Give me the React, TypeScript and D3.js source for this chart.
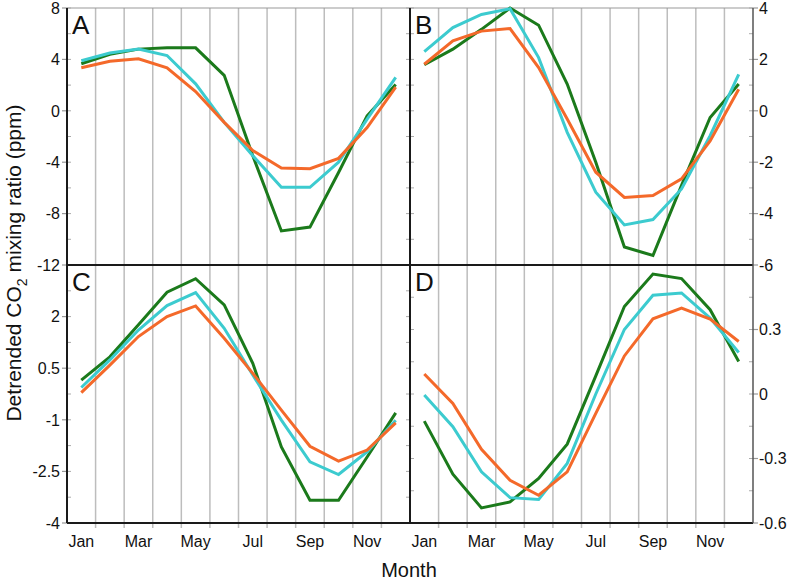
import React, { useEffect, useRef } from 'react';
import * as d3 from 'd3';

const months = ['Jan', 'Feb', 'Mar', 'Apr', 'May', 'Jun', 'Jul', 'Aug', 'Sep', 'Oct', 'Nov', 'Dec'];
const monthLabels = ['Jan', 'Mar', 'May', 'Jul', 'Sep', 'Nov'];

// panel A (ppm, left axis 8..-12)
const aGreen = [3.66, 4.4, 4.8, 4.9, 4.9, 2.76, -3.5, -9.35, -9.05, -4.8, -0.4, 2.05];
const aCyan = [3.9, 4.5, 4.8, 4.3, 2.1, -0.9, -3.5, -5.95, -5.95, -4.0, -0.65, 2.6];
const aOrange = [3.35, 3.85, 4.05, 3.35, 1.5, -0.9, -3.1, -4.45, -4.5, -3.7, -1.3, 1.85];

// panel B (right axis 4..-6)
const bGreen = [1.79, 2.4, 3.17, 4.0, 3.33, 1.04, -2.0, -5.3, -5.63, -2.9, -0.26, 1.04];
const bCyan = [2.3, 3.24, 3.75, 3.97, 2.07, -0.84, -3.17, -4.44, -4.23, -3.04, -0.97, 1.42];
const bOrange = [1.81, 2.72, 3.1, 3.2, 1.68, -0.32, -2.39, -3.37, -3.3, -2.65, -1.17, 0.84];

// panel C (left axis 3.5..-4)
const cGreen = [0.155, 0.83, 1.76, 2.71, 3.1, 2.34, 0.64, -1.79, -3.34, -3.34, -2.08, -0.8];
const cCyan = [-0.06, 0.74, 1.61, 2.32, 2.7, 1.66, 0.3, -1.01, -2.22, -2.59, -1.93, -1.01];
const cOrange = [-0.21, 0.59, 1.42, 2.0, 2.31, 1.37, 0.35, -0.72, -1.77, -2.2, -1.88, -1.09];

// panel D (right axis 0.6..-0.6)
const dGreen = [-0.126, -0.373, -0.53, -0.502, -0.393, -0.233, 0.084, 0.407, 0.558, 0.537, 0.392, 0.151];
const dCyan = [-0.005, -0.152, -0.362, -0.482, -0.491, -0.323, 0.0, 0.3, 0.459, 0.47, 0.353, 0.193];
const dOrange = [0.093, -0.044, -0.257, -0.401, -0.471, -0.362, -0.09, 0.177, 0.35, 0.4, 0.348, 0.244];

const GREEN = '#1b7a1b';
const CYAN = '#3ccbcf';
const ORANGE = '#f4692a';

const FONT = '"Liberation Sans", Arial, Helvetica, sans-serif';

const App: React.FC = () => {
  const svgRef = useRef<SVGSVGElement>(null);

  useEffect(() => {
    if (!svgRef.current) return;
    const svg = d3.select(svgRef.current);
    svg.selectAll('*').remove();

    const left = 67, mid = 410, right = 753;
    const top = 8, middle = 265, bottom = 523;

    const xLeft = d3.scaleLinear().domain([0, 12]).range([left, mid]);
    const xRight = d3.scaleLinear().domain([0, 12]).range([mid, right]);

    const panels = [
      { id: 'A', x: xLeft, y: d3.scaleLinear().domain([-12, 8]).range([middle, top]),
        series: [aGreen, aCyan, aOrange], side: 'left', ticks: [8, 4, 0, -4, -8, -12], minor: [6, 2, -2, -6, -10] },
      { id: 'B', x: xRight, y: d3.scaleLinear().domain([-6, 4]).range([middle, top]),
        series: [bGreen, bCyan, bOrange], side: 'right', ticks: [4, 2, 0, -2, -4, -6], minor: [3, 1, -1, -3, -5] },
      { id: 'C', x: xLeft, y: d3.scaleLinear().domain([-4, 3.5]).range([bottom, middle]),
        series: [cGreen, cCyan, cOrange], side: 'left', ticks: [2, 0.5, -1, -2.5, -4], minor: [2.75, 1.25, -0.25, -1.75, -3.25] },
      { id: 'D', x: xRight, y: d3.scaleLinear().domain([-0.6, 0.6]).range([bottom, middle]),
        series: [dGreen, dCyan, dOrange], side: 'right', ticks: [0.3, 0, -0.3, -0.6], minor: [0.45, 0.15, -0.15, -0.45] },
    ];

    const colors = [GREEN, CYAN, ORANGE];

    // vertical grid lines (extend below bottom axis as ticks)
    [xLeft, xRight].forEach((x) => {
      svg.append('g')
        .selectAll('line')
        .data(d3.range(1, 12))
        .enter()
        .append('line')
        .attr('x1', (d) => x(d))
        .attr('x2', (d) => x(d))
        .attr('y1', top)
        .attr('y2', bottom + 5)
        .attr('stroke', '#bdbdbd')
        .attr('stroke-width', 1.5);
    });

    // top border
    svg.append('line')
      .attr('x1', left).attr('x2', right).attr('y1', top).attr('y2', top)
      .attr('stroke', '#9a9a9a').attr('stroke-width', 1.2);

    // y ticks and labels
    panels.forEach((p) => {
      const axisX = p.side === 'left' ? left : right;
      const dir = p.side === 'left' ? -1 : 1;
      const g = svg.append('g');
      g.selectAll('line.major')
        .data(p.ticks)
        .enter()
        .append('line')
        .attr('x1', axisX)
        .attr('x2', axisX + dir * 5)
        .attr('y1', (d) => p.y(d))
        .attr('y2', (d) => p.y(d))
        .attr('stroke', '#999')
        .attr('stroke-width', 1.2);
      // inner ticks on own axis and on the divider
      const innerXs = p.side === 'left' ? [left, mid] : [right, mid];
      innerXs.forEach((ix) => {
        const inDir = ix === mid ? (p.side === 'left' ? -1 : 1) : -dir;
        g.selectAll(null)
          .data([...p.ticks, ...p.minor])
          .enter()
          .append('line')
          .attr('x1', ix)
          .attr('x2', ix + inDir * 4)
          .attr('y1', (d) => p.y(d))
          .attr('y2', (d) => p.y(d))
          .attr('stroke', '#aaa')
          .attr('stroke-width', 1);
      });
      g.selectAll('text')
        .data(p.ticks)
        .enter()
        .append('text')
        .attr('x', p.side === 'left' ? axisX - 7 : axisX + 6)
        .attr('y', (d) => p.y(d))
        .attr('dy', '0.36em')
        .attr('text-anchor', p.side === 'left' ? 'end' : 'start')
        .attr('font-family', FONT)
        .attr('font-size', 16)
        .attr('fill', '#111')
        .text((d) => String(d));
    });

    // data lines
    panels.forEach((p) => {
      const line = d3.line<number>()
        .x((_, i) => p.x(i + 0.5))
        .y((d) => p.y(d));
      p.series.forEach((s, k) => {
        svg.append('path')
          .datum(s)
          .attr('fill', 'none')
          .attr('stroke', colors[k])
          .attr('stroke-width', 3)
          .attr('stroke-linejoin', 'miter')
          .attr('d', line);
      });
      svg.append('text')
        .attr('x', p.x(0) + 5)
        .attr('y', (p.id === 'A' || p.id === 'B' ? top : middle) + 26)
        .attr('font-family', FONT)
        .attr('font-size', 26)
        .attr('fill', '#111')
        .text(p.id);
    });

    // frame
    const frame = svg.append('g').attr('stroke', '#1a1a1a').attr('stroke-width', 2);
    frame.append('line').attr('x1', left).attr('x2', left).attr('y1', top).attr('y2', bottom);
    frame.append('line').attr('x1', mid).attr('x2', mid).attr('y1', top).attr('y2', bottom);
    frame.append('line').attr('x1', left).attr('x2', right).attr('y1', middle).attr('y2', middle);
    frame.append('line').attr('x1', left).attr('x2', right).attr('y1', bottom).attr('y2', bottom);
    frame.append('line').attr('x1', right).attr('x2', right).attr('y1', top).attr('y2', bottom)
      .attr('stroke', '#555').attr('stroke-width', 1.5);

    // month labels
    [xLeft, xRight].forEach((x) => {
      svg.append('g')
        .selectAll('text')
        .data(monthLabels)
        .enter()
        .append('text')
        .attr('x', (d) => x(months.indexOf(d) + 0.5))
        .attr('y', 547)
        .attr('text-anchor', 'middle')
        .attr('font-family', FONT)
        .attr('font-size', 16)
        .attr('fill', '#111')
        .text((d) => d);
    });

    // axis titles
    svg.append('text')
      .attr('x', 409)
      .attr('y', 577)
      .attr('text-anchor', 'middle')
      .attr('font-family', FONT)
      .attr('font-size', 20)
      .attr('fill', '#111')
      .text('Month');

    const yt = svg.append('text')
      .attr('transform', 'translate(21,263) rotate(-90)')
      .attr('text-anchor', 'middle')
      .attr('font-family', FONT)
      .attr('font-size', 21)
      .attr('fill', '#111');
    yt.append('tspan').text('Detrended CO');
    yt.append('tspan').attr('font-size', 14).attr('dy', 6).text('2');
    yt.append('tspan').attr('dy', -6).text(' mixing ratio (ppm)');
  }, []);

  return (
    <svg
      ref={svgRef}
      width={792}
      height={583}
      style={{ position: 'absolute', left: 0, top: 0, background: '#fff' }}
    />
  );
};

export default App;
